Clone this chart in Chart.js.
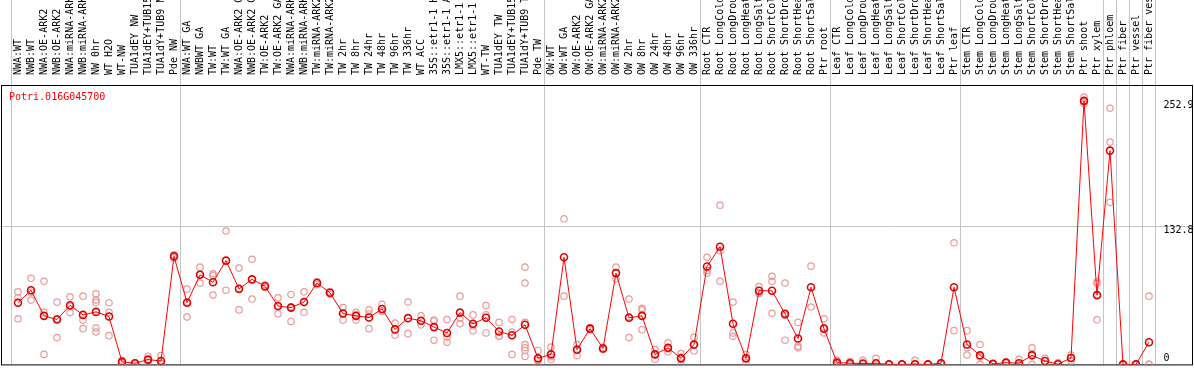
<!DOCTYPE html>
<html><head><meta charset="utf-8">
<script src="https://cdn.jsdelivr.net/npm/chart.js@4/dist/chart.umd.min.js"></script>
<style>html,body{margin:0;padding:0;background:#fff;}canvas{display:block;}</style>
</head><body>
<canvas id="c" width="1194" height="370"></canvas>
<script>
const geneName = 'Potri.016G045700';
const categories = [
'NWA:WT','NWB:WT','NWA:OE-ARK2','NWB:OE-ARK2','NWA:miRNA-ARK2','NWB:miRNA-ARK2','NW 0hr','WT H2O','WT-NW','TUA1dEY NW','TUA1dEY+TUB15 NW','TUA1dY+TUB9 NW','Pde NW',
'NWA:WT GA','NWBWT GA','TW:WT','TW:WT GA','NWA:OE-ARK2 GA','NWB:OE-ARK2 GA','TW:OE-ARK2','TW:OE-ARK2 GA','NWA:miRNA-ARK2 GA','NWB:miRNA-ARK2 GA','TW:miRNA-ARK2','TW:miRNA-ARK2 GA','TW 2hr','TW 8hr','TW 24hr','TW 48hr','TW 96hr','TW 336hr','WT ACC','35S::etr1-1 H2O','35S::etr1-1 ACC','LMX5::etr1-1 H2O','LMX5::etr1-1 ACC','WT-TW','TUA1dEY TW','TUA1dEY+TUB15 TW','TUA1dY+TUB9 TW','Pde TW',
'OW:WT','OW:WT GA','OW:OE-ARK2','OW:OE-ARK2 GA','OW:miRNA-ARK2','OW:miRNA-ARK2 GA','OW 2hr','OW 8hr','OW 24hr','OW 48hr','OW 96hr','OW 336hr',
'Root CTR','Root LongCold','Root LongDrought','Root LongHeat','Root LongSalt','Root ShortCold','Root ShortDrought','Root ShortHeat','Root ShortSalt','Ptr root',
'Leaf CTR','Leaf LongCold','Leaf LongDrought','Leaf LongHeat','Leaf LongSalt','Leaf ShortCold','Leaf ShortDrought','Leaf ShortHeat','Leaf ShortSalt','Ptr leaf',
'Stem CTR','Stem LongCold','Stem LongDrought','Stem LongHeat','Stem LongSalt','Stem ShortCold','Stem ShortDrought','Stem ShortHeat','Stem ShortSalt','Ptr shoot',
'Ptr xylem','Ptr phloem','Ptr fiber','Ptr vessel','Ptr fiber vessel'];

const means = [
59.2,71.2,46.6,43.1,56.7,47.5,50.4,45.9,2.4,1.1,4.6,3.3,103.7,
59.2,86.0,78.8,99.6,72.5,81.6,75.0,56.0,54.5,59.8,78.1,68.7,48.8,46.6,45.0,53.2,33.6,44.4,41.9,35.8,30.2,49.7,39.0,44.7,31.5,27.9,38.0,5.8,
9.6,102.8,14.1,34.3,15.3,87.6,44.7,46.6,9.6,15.9,5.8,19.1,
94.0,112.9,39.0,5.8,70.6,70.6,48.5,24.8,74.0,34.3,
1.7,1.1,0.8,1.1,0,0,0.2,0,1.1,74.0,
19.1,8.7,0.5,1.7,1.1,8.7,3.3,0.2,6.2,252.9,
66.5,205.1,0,0,21.3];

const replicates = [
[69.6,64.0,43.8],[82.6,61.7,69.3],[79.7,50.0,9.6],[59.8,25.7,43.8],[64.9,49.7,55.5],[65.5,42.5,34.3],[67.7,61.7,59.5,34.9,31.1],[59.2,50.0,27.6],[3.9,1.5,1.8],[1.5,0.8,1.0],[7.7,2.0,4.1],[8.4,1.0,0.5],[105.2,102.2],
[72.2,45.6,59.8],[93.3,78.1,86.5],[87.0,85.4,66.5],[128.0,71.2],[92.4,52.3],[100.9,62.7],[76.5,73.5],[63.9,48.5,55.6],[67.1,41.2,55.2],[69.6,50.0],[79.5,76.5],[70.0,67.4],[54.5,42.5,49.4],[50.0,42.5,47.3],[52.3,34.3,48.4],[57.6,50.7,51.3],[39.6,27.9],[59.8,29.5],[46.6,38.0],[42.5,23.2,41.7],[43.1,21.3,26.2],[65.5,39.0,44.6],[47.5,32.4,37.1],[56.4,30.2,47.5],[40.3,27.0,27.2],[43.1,9.6,31.0],[93.3,78.1,40.3,19.1,16.0,13.4,7.7],[13.4,0.2,3.8],
[16.6,4.9,7.3],[139.7,65.5],[19.1,8.4,14.8],[35.4,33.2],[16.4,14.2],[93.3,82.2],[62.7,25.7,45.7],[53.8,52.3,33.3],[14.4,4.9,9.5],[20.7,12.2,14.8],[10.3,0.0,7.1],[26.0,12.8,18.5],
[102.8,90.1,87.6],[152.7,79.7,109.0],[59.8,30.2,27.0],[9.6,1.7,6.1],[74.7,68.1,69.0],[84.5,79.7,49.1],[78.1,46.9,23.2],[40.3,17.5,15.9],[94.3,55.1],[43.8,30.2,34.9],
[3.9,0.5,0.7],[2.7,0.3,0.3],[3.9,0.0],[5.8,0.0],[0.0,0.0],[0.0,0.0],[3.9,0.0],[0.0,0.0],[1.7,1.2,0.4],[116.7,32.4],
[32.4,15.9,9.0],[19.1,7.0,0.0],[0.5,0.5],[2.0,1.4],[4.9,0.0],[15.9,10.3,0.0],[5.8,0.8],[1.7,0.0],[9.0,3.3,6.3],[256.6,252.0,250.1],
[77.5,79.2,42.8],[245.8,213.3,155.5],[0.0,0.0],[0.0,0.0],[65.5,0.0,0.0]];

const groupBoundaries = [-0.5, 12.5, 40.5, 52.5, 62.5, 72.5, 83.5, 84.5, 85.5, 86.5, 87.5];
const yTickValues = [0, 132.8, 252.9];
const yGridValues = [132.8];
const yMax = 268.1;

const FONT = '10px "DejaVu Sans Mono", "Liberation Mono", monospace';

const meanData = means.map((v, i) => ({x: i, y: v}));
const repData = replicates.flatMap((arr, i) => arr.map(v => ({x: i, y: v})));

const decor = {
  id: 'decor',
  beforeDatasetsDraw(chart) {
    const {ctx, chartArea, scales: {x, y}} = chart;
    ctx.save();
    ctx.lineWidth = 1;
    ctx.strokeStyle = '#c4c4c4';
    ctx.beginPath();
    groupBoundaries.forEach(b => {
      const px = Math.floor(x.getPixelForValue(b)) + 0.5;
      ctx.moveTo(px, 0);
      ctx.lineTo(px, chartArea.bottom);
    });
    yGridValues.forEach(v => {
      const py = Math.floor(y.getPixelForValue(v)) + 0.5;
      ctx.moveTo(0, py);
      ctx.lineTo(chart.width, py);
    });
    ctx.stroke();
    ctx.strokeStyle = '#000';
    ctx.strokeRect(1.5, chartArea.top + 0.5, chart.width - 3, chartArea.bottom - chartArea.top);
    ctx.restore();
  },
  afterDraw(chart) {
    const {ctx, chartArea, scales: {y}} = chart;
    ctx.save();
    ctx.font = FONT;
    ctx.fillStyle = '#ff0000';
    ctx.textAlign = 'left';
    ctx.textBaseline = 'middle';
    ctx.fillText(geneName, 9, chartArea.top + 12);
    ctx.fillStyle = '#000';
    yTickValues.forEach(v => {
      const py = y.getPixelForValue(v);
      if (v === 0) {
        ctx.textBaseline = 'alphabetic';
        ctx.fillText(String(v), chartArea.right + 8, py - 3.5);
      } else {
        ctx.textBaseline = 'top';
        ctx.fillText(String(v), chartArea.right + 8, py - 0.5);
      }
    });
    ctx.restore();
  }
};

new Chart(document.getElementById('c'), {
  type: 'line',
  data: {
    datasets: [
      {
        label: 'mean',
        data: meanData,
        borderColor: '#ff0000',
        borderWidth: 1,
        pointRadius: 3.5,
        pointBorderWidth: 1.6,
        pointBorderColor: '#e00000',
        pointBackgroundColor: 'rgba(0,0,0,0)',
        tension: 0,
        clip: 0
      },
      {
        label: 'replicates',
        data: repData,
        showLine: false,
        pointRadius: 3.2,
        pointBorderWidth: 1.2,
        pointBorderColor: '#eb9a9a',
        pointBackgroundColor: 'rgba(0,0,0,0)',
        clip: 0
      }
    ]
  },
  options: {
    responsive: false,
    animation: false,
    devicePixelRatio: 1,
    events: [],
    layout: {padding: {left: 11.5, right: 38.5, top: 0, bottom: 1}},
    plugins: {legend: {display: false}, tooltip: {enabled: false}},
    scales: {
      x: {
        type: 'linear',
        position: 'top',
        min: -0.5,
        max: 87.5,
        grid: {display: false},
        border: {display: false},
        afterBuildTicks: s => { s.ticks = categories.map((_, i) => ({value: i})); },
        afterFit: s => { s.height = 85; },
        ticks: {
          autoSkip: false,
          minRotation: 90,
          maxRotation: 90,
          padding: 2,
          labelOffset: 12,
          color: '#000',
          font: {family: '"DejaVu Sans Mono", "Liberation Mono", monospace', size: 10},
          callback: v => categories[v]
        }
      },
      y: {
        type: 'linear',
        display: false,
        min: 0,
        max: yMax
      }
    }
  },
  plugins: [decor]
});
</script>
</body></html>
